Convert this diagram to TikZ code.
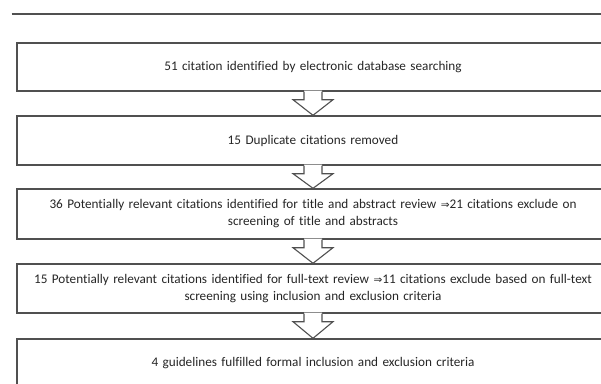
\documentclass[tikz,border=0pt]{standalone}
\usepackage{fontspec}
\setmainfont[Ligatures=NoCommon]{Carlito}
\usetikzlibrary{calc}
\definecolor{linegray}{HTML}{505050}
\definecolor{textgray}{HTML}{262626}
\tikzset{
  flowbox/.style={draw=linegray, line width=1.4pt, fill=white, minimum width=592pt, text width=590pt, align=center, inner sep=0pt, font=\fontsize{13.2}{17}\selectfont, text=textgray},
  arrowline/.style={draw=linegray, line width=1.1pt, line join=miter},
}
\newcommand\flowarrow[2]{%
  \fill[white] ($(#1.south)+(-9,-1)$) -- ($(#1.south)+(-9,8)$) -- ($(#1.south)+(-20,8)$) -- (#2.north) -- ($(#1.south)+(20,8)$) -- ($(#1.south)+(9,8)$) -- ($(#1.south)+(9,-1)$) -- cycle;
  \draw[arrowline] ($(#1.south)+(-9,0)$) -- ($(#1.south)+(-9,8)$) -- ($(#1.south)+(-20,8)$) -- (#2.north) -- ($(#1.south)+(20,8)$) -- ($(#1.south)+(9,8)$) -- ($(#1.south)+(9,0)$);
}
\begin{document}
\begin{tikzpicture}[x=1pt,y=-1pt]
\useasboundingbox (0,0) rectangle (601,383);
\clip (0,0) rectangle (601,383);
\fill[white] (0,0) rectangle (601,383);
\coordinate (rl) at (11.5,14);
\coordinate (rr) at (610,14);
\draw[draw=linegray, line width=1.2pt] (rl) -- (rr);
\node[flowbox, minimum height=48pt] (b1) at (313,67) {51 citation identified by electronic database searching};
\node[flowbox, minimum height=49pt] (b2) at (313,140.5) {15 Duplicate citations removed};
\node[flowbox, minimum height=50pt] (b3) at (313,214) {36 Potentially relevant citations identified for title and abstract review {\fontspec{DejaVu Sans}\fontsize{10.5}{17}\selectfont ⇒}21 citations exclude on\\ screening of title and abstracts};
\node[flowbox, minimum height=49pt] (b4) at (313,288.5) {15 Potentially relevant citations identified for full-text review {\fontspec{DejaVu Sans}\fontsize{10.5}{17}\selectfont ⇒}11 citations exclude based on full-text\\ screening using inclusion and exclusion criteria};
\node[flowbox, minimum height=48pt] (b5) at (313,363) {4 guidelines fulfilled formal inclusion and exclusion criteria};
\flowarrow{b1}{b2}
\flowarrow{b2}{b3}
\flowarrow{b3}{b4}
\flowarrow{b4}{b5}
\end{tikzpicture}
\end{document}
